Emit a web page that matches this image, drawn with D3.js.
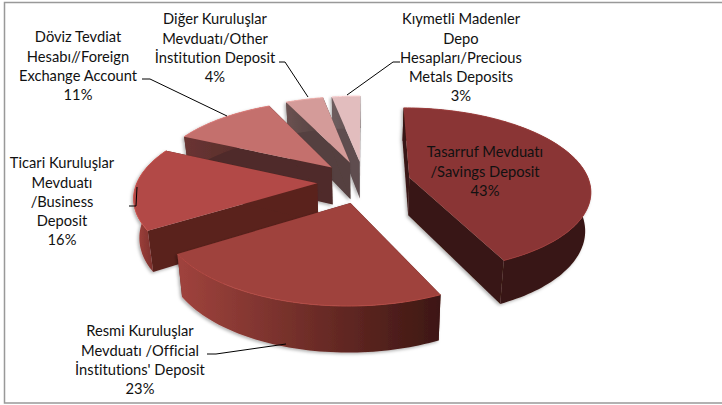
<!DOCTYPE html>
<html>
<head>
<meta charset="utf-8">
<script src="https://cdn.jsdelivr.net/npm/d3@7"></script>
<style>
html, body { margin: 0; padding: 0; background: #fff; }
svg { display: block; }
text { font-family: Lato, "Open Sans", sans-serif; font-size: 14.7px; fill: #111; text-anchor: middle; font-variant-ligatures: none; }
</style>
</head>
<body>
<svg id="chart" width="722" height="405"></svg>
<script>
// slice shares, clockwise from 12 o'clock
var shares = [43, 23, 16, 11, 4, 3];
var labels = [
    ["Tasarruf Mevduatı", "/Savings Deposit", "43%"],
    ["Resmi Kuruluşlar", "Mevduatı /Official", "İnstitutions' Deposit", "23%"],
    ["Ticari Kuruluşlar", "Mevduatı", "/Business", "Deposit", "16%"],
    ["Döviz Tevdiat", "Hesabı//Foreign", "Exchange Account", "11%"],
    ["Diğer Kuruluşlar", "Mevduatı/Other", "İnstitution Deposit", "4%"],
    ["Kıymetli Madenler", "Depo", "Hesapları/Precious", "Metals Deposits", "3%"]
];
var topColors = ["#8a3534", "#9f423d", "#b24a46", "#c46f6d", "#d49b99", "#e2bdbe"];
var wallColors = ["#391512", "#5f2420", "#5a221f", "#4f2b29", "#54403f", "#5e4e4f"];
var wallLeft = ["#391512", "#a0433d", "#a8443f", "#6a3432", "#6a5251", "#6e5d5e"];
var wallRight = ["#391512", "#3d1713", "#5e2420", "#4f2b29", "#54403f", "#5e4e4f"];
// paint order, back to front
var drawOrder = [5, 4, 3, 2, 0, 1];

var labelAnchors = [[485, 152], [140, 331], [62, 163], [78, 37], [215, 19], [461, 19]];
var leaders = [
    null,
    [[207, 354], [216, 354], [286, 344]],
    [[129, 206], [136, 206], [137, 187]],
    [[142, 79], [150, 79], [227, 116]],
    [[279, 62], [285, 62], [308, 97]],
    [[400, 62], [393, 62], [347, 95]]
];

var width = 722, height = 405;
var cx = 364, cy = 182, rx = 180, ry = 81, persp = 0.147;
var explode = 0.26, depth = 38, shrink = 0.975;

var svg = d3.select("#chart");
var defs = svg.append("defs");

var shadow = defs.append("filter").attr("id", "soft")
    .attr("x", "-10%").attr("y", "-10%").attr("width", "120%").attr("height", "120%");
shadow.append("feDropShadow")
    .attr("dx", -1.5).attr("dy", 1.5).attr("stdDeviation", 1.5)
    .attr("flood-color", "#000").attr("flood-opacity", 0.3);

// chart frame, open on the right like the source
svg.append("path")
    .attr("d", "M" + width + ",2.5H4.5V403H" + width)
    .attr("fill", "none").attr("stroke", "#999").attr("stroke-width", 1.5);

// ground plane (u right, v towards viewer) to screen
function project(u, v, low) {
    var s = 1 / (1 - persp * v);
    var x = cx + rx * u * s;
    var y = cy + ry * v * s;
    if (low) {
        x = cx + (x - cx) * shrink;
        y = y + depth * s;
    }
    return [x, y];
}

var line = d3.line();
var pie = d3.pie().sort(null)(shares);

pie.forEach(function (d) {
    d.mid = (d.startAngle + d.endAngle) / 2;
    d.ou = explode * Math.sin(d.mid);
    d.ov = -explode * Math.cos(d.mid);
    var n = Math.max(4, Math.round((d.endAngle - d.startAngle) * 40));
    d.arc = d3.range(n + 1).map(function (i) {
        var a = d.startAngle + (d.endAngle - d.startAngle) * i / n;
        return [d.ou + Math.sin(a), d.ov - Math.cos(a)];
    });
});

drawOrder.forEach(function (i) {
    var d = pie[i];
    var g = svg.append("g").attr("filter", "url(#soft)");
    var apex = [d.ou, d.ov];
    var first = d.arc[0], last = d.arc[d.arc.length - 1];

    var up = function (p) { return project(p[0], p[1], false); };
    var down = function (p) { return project(p[0], p[1], true); };

    // the two cut faces go under the rim
    [first, last].forEach(function (p) {
        g.append("path")
            .attr("d", line([up(apex), up(p), down(p), down(apex)]) + "Z")
            .attr("fill", wallColors[i]);
    });

    // outer rim, shaded left to right
    var upper = d.arc.map(up), lower = d.arc.map(down).reverse();
    var ext = d3.extent(upper, function (p) { return p[0]; });
    var grad = defs.append("linearGradient").attr("id", "rim" + i)
        .attr("gradientUnits", "userSpaceOnUse")
        .attr("x1", ext[0]).attr("x2", ext[1]).attr("y1", 0).attr("y2", 0);
    grad.append("stop").attr("offset", 0).attr("stop-color", wallLeft[i]);
    grad.append("stop").attr("offset", 1).attr("stop-color", wallRight[i]);
    g.append("path")
        .attr("d", line(upper.concat(lower)) + "Z")
        .attr("fill", "url(#rim" + i + ")");

    // top face
    g.append("path")
        .attr("d", line([up(apex)].concat(upper)) + "Z")
        .attr("fill", topColors[i]);
    g.append("path")
        .attr("d", line(upper))
        .attr("fill", "none")
        .attr("stroke", d3.color(topColors[i]).brighter(0.35))
        .attr("stroke-width", 1);
});

// leader lines
leaders.forEach(function (pts) {
    if (!pts) return;
    svg.append("path")
        .attr("d", line(pts))
        .attr("fill", "none")
        .attr("stroke", "#000")
        .attr("stroke-width", 1);
});

// labels
labels.forEach(function (rows, i) {
    var t = svg.append("text")
        .attr("x", labelAnchors[i][0])
        .attr("y", labelAnchors[i][1]);
    t.selectAll("tspan").data(rows).enter().append("tspan")
        .attr("x", labelAnchors[i][0])
        .attr("y", function (r, j) { return labelAnchors[i][1] + j * 19.3; })
        .attr("dy", "0.36em")
        .text(function (r) { return r; });
});
</script>
</body>
</html>
